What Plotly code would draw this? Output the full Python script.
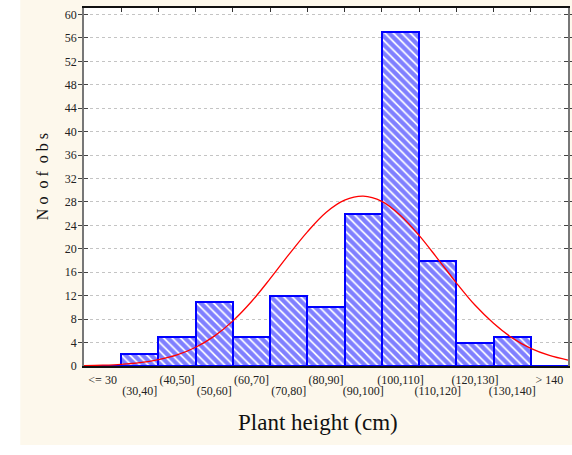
import plotly.graph_objects as go

categories = ["<= 30", "(30,40]", "(40,50]", "(50,60]", "(60,70]", "(70,80]",
              "(80,90]", "(90,100]", "(100,110]", "(110,120]", "(120,130]",
              "(130,140]", "> 140"]
counts = [0, 2, 5, 11, 5, 12, 10, 26, 57, 18, 4, 5, 0]

# expected-normal curve (plant height in cm -> expected count)
curve_height = [20, 25, 30, 35, 40, 45, 50, 55, 60, 65, 70, 75, 80, 85, 90, 95,
                100, 105, 110, 115, 120, 125, 130, 135, 140, 145, 150]
curve_count = [0.06, 0.14, 0.29, 0.58, 1.1, 1.9, 3.2, 5.1, 7.7, 11.0, 14.9, 19.0,
               22.9, 26.2, 28.3, 29.0, 28.1, 25.7, 22.3, 18.3, 14.2, 10.4, 7.3,
               4.8, 3.0, 1.8, 1.0]

y_ticks = list(range(0, 61, 4))

pos = list(range(len(categories)))
curve_pos = [(h - 25) / 10 for h in curve_height]
even_pos = [p for p in pos if p % 2 == 0]
odd_pos = [p for p in pos if p % 2 == 1]
bounds = [p - 0.5 for p in pos] + [pos[-1] + 0.5]

FONT = "Liberation Serif, Times New Roman, serif"
CREAM = "#FDF8EC"

fig = go.Figure()
fig.add_trace(go.Bar(
    x=pos, y=counts, width=1,
    marker=dict(color="white",
                line=dict(color="#0000FF", width=2),
                pattern=dict(shape="\\", fgcolor="#0000FF", bgcolor="white",
                             size=6, solidity=0.7, fillmode="overlay")),
    showlegend=False, hoverinfo="x+y"))
fig.add_trace(go.Scatter(
    x=curve_pos, y=curve_count, mode="lines", line=dict(color="#FF0000", width=1.3, shape="spline"),
    showlegend=False))
# invisible helper traces to activate the extra axes
fig.add_trace(go.Scatter(x=[pos[0]], y=[0], xaxis="x2", mode="markers",
                         marker=dict(opacity=0), showlegend=False, hoverinfo="skip"))
fig.add_trace(go.Scatter(x=[pos[0]], y=[0], xaxis="x3", mode="markers",
                         marker=dict(opacity=0), showlegend=False, hoverinfo="skip"))

xr = [-0.5, len(categories) - 0.5]
fig.update_layout(
    width=572, height=455,
    margin=dict(l=84, r=2, t=8, b=89),
    paper_bgcolor=CREAM, plot_bgcolor="white",
    font=dict(family=FONT, color="#222222", size=12),
    bargap=0,
    xaxis=dict(range=xr, tickmode="array", tickvals=even_pos,
               ticktext=[categories[p] for p in even_pos],
               ticks="", showgrid=False, zeroline=False,
               showline=True, linecolor="#111111", linewidth=2,
               ticklabelstandoff=2, tickfont=dict(size=12, family=FONT, color="#222222")),
    xaxis3=dict(range=xr, overlaying="x", side="bottom", anchor="y",
                tickmode="array", tickvals=odd_pos,
                ticktext=[categories[p] for p in odd_pos],
                ticks="", showgrid=False, zeroline=False, showline=False,
                ticklabelstandoff=16, tickfont=dict(size=12, family=FONT, color="#222222")),
    xaxis2=dict(range=xr, overlaying="x", side="top", anchor="y",
                tickmode="array", tickvals=bounds, ticktext=[""] * len(bounds),
                ticks="inside", ticklen=4, tickcolor="#333333",
                showgrid=False, zeroline=False, showline=True,
                linecolor="#111111", linewidth=2),
    yaxis=dict(range=[0, 61.1], tickmode="array", tickvals=y_ticks,
               ticks="inside", ticklen=4, tickcolor="#444444",
               mirror="allticks", showline=True, linecolor="#777777", linewidth=1.5,
               showgrid=True, gridcolor="#C4C4C4", griddash="dot", gridwidth=1,
               zeroline=False, tickfont=dict(size=12, family=FONT, color="#222222"),
               ticklabelstandoff=3),
    shapes=[
        dict(type="rect", xref="paper", yref="paper", x0=-0.2, x1=-0.1317,
             y0=-0.3, y1=1.1, fillcolor="white", line=dict(width=0), layer="below"),
        dict(type="rect", xref="paper", yref="paper", x0=-0.2, x1=1.1,
             y0=-0.3, y1=-0.2207, fillcolor="white", line=dict(width=0), layer="below"),
    ],
    annotations=[
        dict(text="Plant height (cm)", xref="paper", yref="paper", x=0.4835, y=-0.159,
             showarrow=False, font=dict(size=23, family=FONT, color="#111111"),
             xanchor="center", yanchor="middle"),
        dict(text="N o  o f  o b s", xref="paper", yref="paper", x=-0.0844, y=0.528,
             showarrow=False, textangle=-90, font=dict(size=16, family=FONT, color="#111111"),
             xanchor="center", yanchor="middle"),
    ],
)

fig.write_html("out.html")
